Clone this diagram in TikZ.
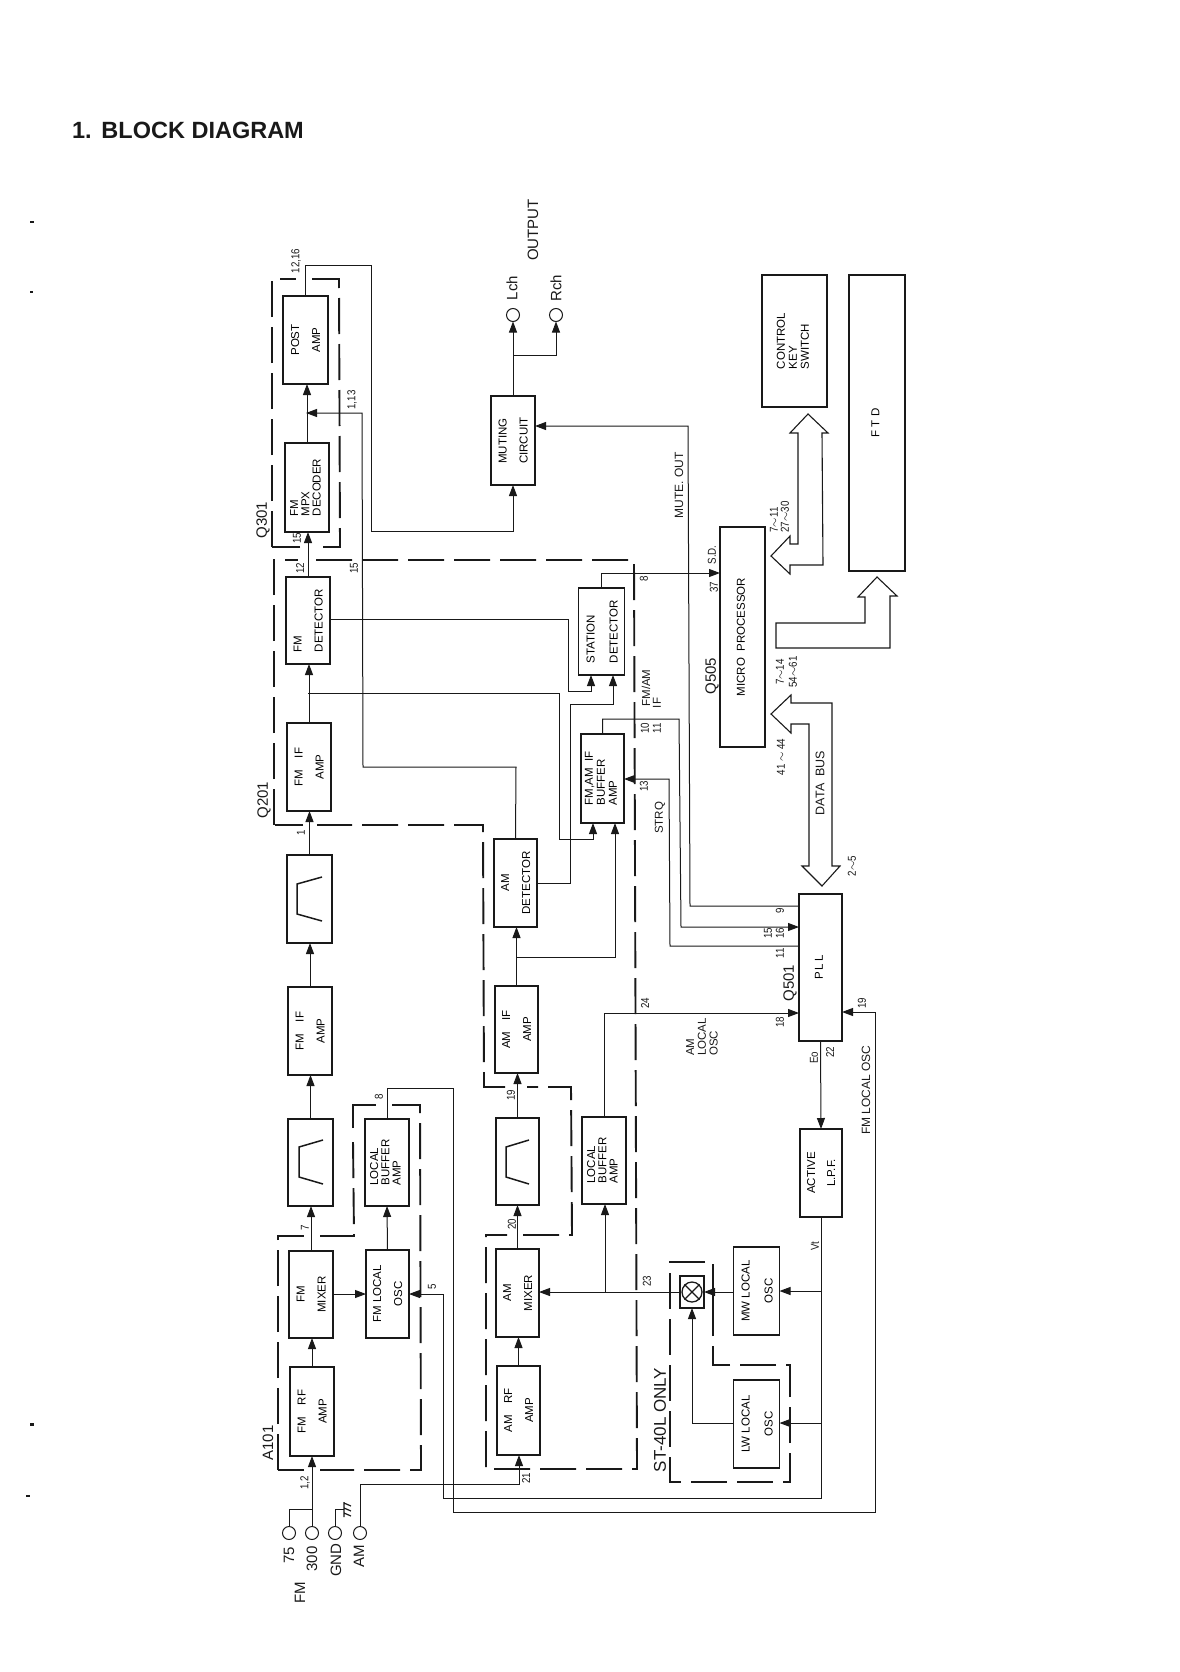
\documentclass[tikz,border=0pt]{standalone}
\usepackage{fontspec}
\setmainfont{Liberation Sans}
\newfontfamily\numfont[FakeStretch=0.85]{Liberation Sans}
\usetikzlibrary{arrows.meta,calc}
\definecolor{ink}{gray}{0.1}
\tikzset{
  boxn/.style={draw=ink,line width=1.9pt,inner sep=0pt,outer sep=0pt,font=\fontsize{11.5}{12}\selectfont},
  conn/.style={draw=ink,line width=1pt},
  arr/.style={conn,-{Triangle[length=11pt,width=8pt]}},
  dashbox/.style={draw=ink,line width=1.9pt,dash pattern=on 36pt off 10pt},
  dashend/.style={draw=ink,line width=1.9pt},
  bus/.style={draw=ink,line width=1.1pt,fill=white,line join=miter},
  term/.style={circle,draw=ink,line width=1pt,minimum size=13pt,inner sep=0pt,outer sep=0pt},
  lab/.style={rotate=90,inner sep=0pt,text=ink,font=\numfont\fontsize{11.5}{12}\selectfont},
  labm/.style={rotate=90,inner sep=0pt,text=ink,font=\fontsize{11.5}{12}\selectfont},
  labb/.style={rotate=90,inner sep=0pt,text=ink,font=\fontsize{15}{16}\selectfont},
  filt/.style={draw=ink,line width=1.5pt},
}
% \blk{name}{x1}{y1}{x2}{y2}{line spacing}{column}{text}
\newcommand\blk[8]{%
  \pgfmathsetmacro\bw{#4-#2}\pgfmathsetmacro\bh{#5-#3}%
  \pgfmathsetmacro\bx{(#2+#4)/2}\pgfmathsetmacro\by{(#3+#5)/2}%
  \node[boxn,minimum width=\bw pt,minimum height=\bh pt] (#1) at (\bx,\by)
    {\rotatebox{90}{\fontsize{11.5}{#6}\selectfont\begin{tabular}{@{}#7@{}}#8\end{tabular}}};}
\newcommand\filter[5]{\draw[filt] ([shift={(#2,#3)}]#1.north west) -- ([shift={(#4,#5)}]#1.north west)
  -- ([shift={(#4,#5+30)}]#1.north west) -- ([shift={(#2,#3+44)}]#1.north west);}
\begin{document}
\begin{tikzpicture}[x=1pt,y=-1pt]
\useasboundingbox (0,0) rectangle (1179,1672);
\node[text=ink,font=\bfseries\fontsize{23.5}{25}\selectfont,anchor=center] (title) at (188,130) {1.\hspace{1pt} BLOCK DIAGRAM};
% scan marks
\fill[ink] (30,221) rectangle (34,223);
\fill[ink] (30,291) rectangle (33,293);
\fill[ink] (30,1423) rectangle (34,1426);
\fill[ink] (26,1495) rectangle (30,1497);
% dashed groups
\draw[dashbox] (272,547) -- (272,279) -- (296,279);
\draw[dashbox] (312,279) -- (339,279) -- (340,547) -- (316,547);
\draw[dashbox] (300,547) -- (272,547);
\draw[dashbox] (274,825) -- (274,560) -- (298,560);
\draw[dashbox] (316,560) -- (634,560) -- (637,1469) -- (486,1469) -- (486,1235) -- (507,1235);
\draw[dashbox] (523,1235) -- (572,1235) -- (571,1087) -- (527,1087);
\draw[dashbox] (505,1087) -- (484,1087) -- (483,825) -- (317,825);
\draw[dashbox] (303,825) -- (275,825);
\draw[dashbox] (278,1470) -- (278,1236) -- (304,1236);
\draw[dashbox] (320,1236) -- (354,1236) -- (353,1140);
\draw[dashend] (353,1128) -- (353,1105) -- (376,1105);
\draw[dashbox] (392,1105) -- (420,1105) -- (421,1470) -- (320,1470);
\draw[dashbox] (304,1470) -- (278,1470);
\draw[dashbox] (713,1300) -- (713,1262) -- (670,1262) -- (670,1482) -- (790,1482) -- (790,1365) -- (713,1365) -- (713,1300);
% blocks
\blk{post}{283}{296}{328}{384}{21}{c}{POST\\AMP}
\blk{mpx}{285}{443}{329}{532}{11}{l}{FM\\MPX\\DECODER}
\blk{fmdet}{286}{577}{330}{664}{21}{l}{FM\\DETECTOR}
\blk{stdet}{580}{588}{623}{675}{23}{l}{STATION\\DETECTOR}
\blk{mute}{491}{396}{535}{485}{21}{l}{MUTING\\CIRCUIT}
\blk{fmif}{287}{723}{331}{811}{21}{c}{FM\quad IF\\AMP}
\blk{ff}{287}{855}{332}{943}{12}{c}{}
\blk{fmifb}{288}{987}{332}{1075}{21}{c}{FM\quad IF\\AMP}
\blk{fg}{288}{1119}{333}{1206}{12}{c}{}
\blk{fmmix}{289}{1251}{333}{1338}{21}{c}{FM\\MIXER}
\blk{fmrf}{290}{1367}{334}{1456}{21}{c}{FM\quad RF\\AMP}
\blk{fmosc}{366}{1250}{409}{1338}{21}{c}{FM LOCAL\\OSC}
\blk{fmbuf}{365}{1119}{409}{1206}{11}{l}{LOCAL\\BUFFER\\AMP}
\blk{amrf}{497}{1366}{540}{1455}{21}{c}{AM\quad RF\\AMP}
\blk{ammix}{496}{1249}{539}{1337}{21}{c}{AM\\MIXER}
\blk{fa}{496}{1118}{539}{1205}{12}{c}{}
\blk{amif}{495}{986}{538}{1073}{21}{c}{AM\quad IF\\AMP}
\blk{amdet}{494}{839}{537}{927}{21}{c}{AM\\DETECTOR}
\blk{fmam}{581}{734}{624}{823}{12}{l}{FM,AM\ \ IF\\BUFFER\\AMP}
\blk{ambuf}{582}{1117}{626}{1204}{11}{l}{LOCAL\\BUFFER\\AMP}
\blk{mwosc}{735}{1247}{778}{1335}{23}{c}{MW LOCAL\\OSC}
\blk{lwosc}{735}{1380}{778}{1468}{23}{c}{LW LOCAL\\OSC}
\blk{lpf}{800}{1129}{842}{1217}{20}{c}{ACTIVE\\L.P.F.}
\blk{pll}{799}{894}{842}{1041}{12}{c}{P\,L\,L}
\blk{mcu}{720}{527}{765}{747}{12}{c}{MICRO\ \ PROCESSOR}
\blk{key}{762}{275}{827}{407}{12}{l}{CONTROL\\KEY\\SWITCH}
\blk{ftd}{849}{275}{905}{571}{12}{c}{F T D}
\filter{ff}{35}{22}{10}{29}
\filter{fg}{35}{21}{11}{28}
\filter{fa}{33}{22}{10}{29}
% mixer symbol
\node[draw=ink,line width=1.5pt,minimum width=24pt,minimum height=32pt,inner sep=0pt,outer sep=0pt] (xbox) at (692,1292) {};
\node[circle,draw=ink,line width=1.3pt,minimum size=20pt,inner sep=0pt] (xsym) at (xbox.center) {};
\draw[line width=1.1pt,draw=ink] (xsym.45) -- (xsym.225) (xsym.135) -- (xsym.-45);
% terminals
\node[term] (tL) at (513,315) {};
\node[term] (tR) at (556,315) {};
\node[term] (t75) at (289,1533) {};
\node[term] (t300) at (312,1533) {};
\node[term] (tgnd) at (335,1533) {};
\node[term] (tam) at (360,1533) {};
% signal chain
\draw[arr] (fmrf.north) -- (fmmix.south -| fmrf.north);
\draw[arr] (fmmix.north) -- (fg.south -| fmmix.north);
\draw[arr] (fg.north) -- (fmifb.south -| fg.north);
\draw[arr] (fmifb.north) -- (ff.south -| fmifb.north);
\draw[arr] (ff.north) -- (fmif.south -| ff.north);
\draw[arr] (fmif.north) -- (fmdet.south -| fmif.north);
\draw[arr] (fmdet.north) -- (mpx.south -| fmdet.north);
\draw[arr] (mpx.north) -- (post.south -| mpx.north);
\draw[arr] (fmmix.east |- 0,1294) -- (fmosc.west |- 0,1294);
\draw[arr] (fmosc.north) -- (fmbuf.south);
\draw[arr] (amrf.north) -- (ammix.south -| amrf.north);
\draw[arr] (ammix.north) -- (fa.south -| ammix.north);
\draw[arr] (fa.north) -- (amif.south -| fa.north);
\draw[arr] (amif.north) -- (amdet.south -| amif.north);
% outputs
\draw[arr] (mute.north) -- (tL.south);
\coordinate (jLR) at (513,355);
\draw[arr] (jLR) -- (556,355) -- (tR.south);
\draw[arr] (post.north) -- (305.5,265) -- (371,265) -- (371,531) -- (513,531) -- (mute.south);
\draw[arr] (amdet.north) -- (516,767) -- (363,767) -- (362,413) -- (306,413);
\draw[arr] (pll.west |- 0,906) -- (690,906) -- (688,426) -- (mute.east |- 0,426);
% station detector
\draw[arr] (stdet.north) -- (601.5,573) -- (mcu.west |- 0,573);
\draw[arr] (fmdet.east |- 0,619) -- (568,619) -- (568,691) -- (591,691) -- (stdet.south -| 591,0);
\draw[arr] (amdet.east |- 0,883) -- (570,883) -- (570,704) -- (613,704) -- (stdet.south -| 613,0);
% fm/am buffer
\draw[arr] (308,693) -- (559,693) -- (559,839) -- (593,839) -- (fmam.south -| 593,0);
\draw[arr] (517,957) -- (615,957) -- (fmam.south -| 615,0);
\draw[arr] (fmam.north) -- (602.5,719) -- (679,719) -- (681,927) -- (pll.west |- 0,927);
\draw[arr] (pll.west |- 0,946) -- (670,946) -- (669,779) -- (fmam.east |- 0,779);
% local oscillators and PLL
\draw[arr] (ambuf.north) -- (604,1013) -- (pll.west |- 0,1013);
\draw[arr] (fmbuf.north) -- (387,1088) -- (453,1088) -- (453,1512) -- (875,1512) -- (875,1012) -- (pll.east |- 0,1012);
\draw[arr] (pll.south) -- (lpf.north);
\draw[arr] (lpf.south) -- (821,1498) -- (443,1498) -- (443,1294) -- (fmosc.east |- 0,1294);
\draw[arr] (821,1291) -- (mwosc.east |- 0,1291);
\draw[arr] (821,1423) -- (lwosc.east |- 0,1423);
\draw[arr] (mwosc.west |- 0,1292) -- (xbox.east);
\draw[arr] (lwosc.west |- 0,1423) -- (692,1423) -- (xbox.south);
\draw[arr] (xbox.west) -- (ammix.east |- xbox.west);
\draw[arr] (605,1292) -- (ambuf.south -| 605,0);
% inputs
\draw[arr] (t300.north) -- (fmrf.south -| t300.north);
\draw[conn] (t75.north) -- (289,1509) -- (312,1509);
\draw[conn] (tgnd.north) -- (335,1509) -- (344,1509);
\draw[conn,line width=1.2pt] (344,1502) -- (344,1517) (344,1503) -- (351,1506) (344,1508) -- (351,1511) (344,1513) -- (351,1516);
\draw[arr] (tam.north) -- (360,1484) -- (519,1484) -- (amrf.south -| 519,0);
% buses
\draw[bus] (808,414) -- (790,433) -- (798,433) -- (798,544) -- (790,544) -- (790,536) -- (771,556) -- (790,574) -- (790,565) -- (823,565) -- (822,433) -- (828,433) -- cycle;
\draw[bus] (877,577) -- (858,597) -- (865,597) -- (865,623) -- (776,623) -- (776,648) -- (890,648) -- (890,596) -- (897,596) -- cycle;
\draw[bus] (771,714) -- (791,695) -- (791,703) -- (832,703) -- (832,866) -- (840,866) -- (822,886) -- (802,866) -- (809,866) -- (809,724) -- (791,724) -- (791,733) -- cycle;
% labels
\node[labb] (lout) at (533,230) {OUTPUT};
\node[labb] (llch) at (512,288) {Lch};
\node[labb] (lrch) at (556,288) {Rch};
\node[labb] (lq301) at (263,520) {Q301};
\node[labb] (lq201) at (264,800) {Q201};
\node[labb] (la101) at (268,1443) {A101};
\node[labb] (lq505) at (712,676) {Q505};
\node[labb] (lq501) at (790,983) {Q501};
\node[labb] (l75) at (289,1555) {75};
\node[labb] (l300) at (312,1559) {300};
\node[labb] (lgnd) at (336,1560) {GND};
\node[labb] (lam) at (359,1556) {AM};
\node[labb] (lfm) at (300,1593) {FM};
\node[labb,font=\fontsize{17}{18}\selectfont] (lst) at (660,1420) {ST-40L ONLY};
\node[lab] (n1216) at (296,261) {12,16};
\node[lab] (n113) at (352,400) {1,13};
\node[lab] (n15a) at (297,538) {15};
\node[lab] (n12) at (300,568) {12};
\node[lab] (n15b) at (354,568) {15};
\node[lab] (n1) at (301,833) {1};
\node[lab] (n7) at (305,1228) {7};
\node[lab] (n8a) at (379,1097) {8};
\node[lab] (n19a) at (511,1095) {19};
\node[lab] (n20) at (512,1224) {20};
\node[lab] (n21) at (526,1478) {21};
\node[lab] (n12b) at (305,1483) {1,2};
\node[lab] (n5) at (432,1287) {5};
\node[lab] (n23) at (647,1281) {23};
\node[lab] (n24) at (645,1003) {24};
\node[lab] (n8) at (644,579) {8};
\node[lab] (n10) at (645,728) {10};
\node[lab] (n11) at (657,728) {11};
\node[lab] (n13) at (644,786) {13};
\node[lab] (nsd) at (712,555) {S.D.};
\node[lab] (n37) at (714,587) {37};
\node[lab] (n9) at (780,911) {9};
\node[lab] (n15c) at (768,933) {15};
\node[lab] (n16) at (780,933) {16};
\node[lab] (n11b) at (780,953) {11};
\node[lab] (n18) at (780,1022) {18};
\node[lab] (n19) at (862,1003) {19};
\node[lab] (n22) at (830,1052) {22};
\node[lab] (neo) at (814,1058) {Eo};
\node[lab] (nvt) at (815,1246) {Vt};
\node[lab] (n25) at (852,866) {2$\sim$5};
\node[lab] (n4144) at (781,757) {41 $\sim$ 44};
\node[lab] (n714) at (780,672) {7$\sim$14};
\node[lab] (n5461) at (793,672) {54$\sim$61};
\node[lab] (n711) at (774,520) {7$\sim$11};
\node[lab] (n2730) at (785,517) {27$\sim$30};
\node[labm] (lfmam) at (646,688) {FM/AM};
\node[labm] (lif) at (657,703) {IF};
\node[labm] (lstrq) at (660,818) {STRQ};
\node[labm,font=\fontsize{12}{13}\selectfont] (lmute) at (679,485) {MUTE. OUT};
\node[labm,font=\fontsize{12}{13}\selectfont] (lfmlo) at (866,1090) {FM LOCAL OSC};
\node[labm,font=\fontsize{12.5}{13}\selectfont] (ldata) at (820,783) {DATA\ \ BUS};
\node[labm,align=left,font=\fontsize{11.5}{11.7}\selectfont] (lamlo) at (702,1037) {AM\\LOCAL\\OSC};
\end{tikzpicture}
\end{document}
